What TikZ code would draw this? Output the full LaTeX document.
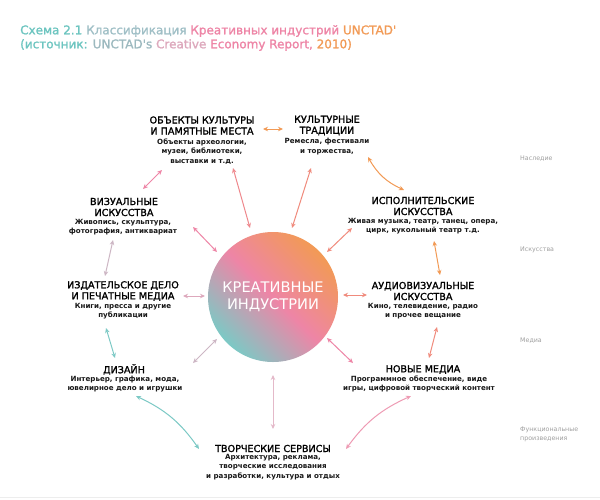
\documentclass[tikz,border=0pt]{standalone}
\usepackage{fontspec}
\setmainfont{DejaVu Sans}
\newfontfamily\medfont[FakeBold=1.4]{DejaVu Sans}
\newfontfamily\titlefont[FakeBold=1.2]{DejaVu Sans}
\usetikzlibrary{arrows.meta}
\definecolor{cOrange}{HTML}{F29A55}
\definecolor{cSalmon}{HTML}{F08A7C}
\definecolor{cPink}{HTML}{EE85A6}
\definecolor{cLilac}{HTML}{CDB6C4}
\definecolor{cLilacPink}{HTML}{DDA8BC}
\definecolor{cTeal}{HTML}{7CC9C5}
\definecolor{cTealT}{HTML}{6CC5C0}
\definecolor{cSteel}{HTML}{9FBFC6}
\definecolor{cGray}{HTML}{A0A0A0}
\definecolor{cPinkL}{HTML}{EE9AB3}
\begin{document}
\begin{tikzpicture}[x=1pt,y=-1pt,
  hd/.style={font=\medfont\fontsize{9.6}{11}\selectfont, align=center, inner sep=0pt, text=black},
  ds/.style={font=\fontsize{7.1}{9.5}\selectfont\bfseries, align=center, inner sep=0pt, text=black!90},
  lnk/.style={line width=1pt, {Stealth[length=5pt,width=4.5pt]}-{Stealth[length=5pt,width=4.5pt]}},
  side/.style={font=\fontsize{6.3}{8.5}\selectfont, text=cGray, align=left, anchor=west, inner sep=0pt},
  ttl/.style={font=\titlefont\fontsize{12}{14}\selectfont, anchor=west, inner sep=0pt}]
\useasboundingbox (0,0) rectangle (600,499);
\fill[white] (0,0) rectangle (600,499);
\draw[black!7, line width=1pt] (0,497.5) -- (600,497.5);

% title
\node[ttl] (title1) at (20,31) {\textcolor{cTealT}{Схема 2.1} \textcolor{cSteel}{Классификация} \textcolor{cPink}{Креативных индустрий} \textcolor{cOrange}{UNCTAD'}};
\node[ttl] (title2) at (20,45) {\textcolor{cTealT}{(источник:} \textcolor{cSteel!90!gray}{UNCTAD's} \textcolor{cLilacPink}{Creative} \textcolor{cPink}{Economy Report,} \textcolor{cOrange}{2010)}};

% centre
\node[circle, minimum size=130pt, inner sep=0pt, shading=axis, top color=cOrange, bottom color=cTeal, middle color=cPink, shading angle=-45,
  text=white, align=center, font=\fontsize{14.6}{17}\selectfont] (core) at (273,297) {КРЕАТИВНЫЕ\\ИНДУСТРИИ};

% categories
\node[hd] (objekty) at (202,125.5) {ОБЪЕКТЫ КУЛЬТУРЫ\\И ПАМЯТНЫЕ МЕСТА};
\node[ds] (objektyD) at (202,151.5) {Объекты археологии,\\музеи, библиотеки,\\выставки и т.д.};
\node[hd] (tradicii) at (327,125.5) {КУЛЬТУРНЫЕ\\ТРАДИЦИИ};
\node[ds] (tradiciiD) at (327,146.5) {Ремесла, фестивали\\и торжества,};
\node[hd] (ispoln) at (423,206) {ИСПОЛНИТЕЛЬСКИЕ\\ИСКУССТВА};
\node[ds] (ispolnD) at (423,226) {Живая музыка, театр, танец, опера,\\цирк, кукольный театр т.д.};
\node[hd] (vizual) at (124,207) {ВИЗУАЛЬНЫЕ\\ИСКУССТВА};
\node[ds] (vizualD) at (123,227) {Живопись, скульптура,\\фотография, антиквариат};
\node[hd] (izdat) at (123,291) {ИЗДАТЕЛЬСКОЕ ДЕЛО\\И ПЕЧАТНЫЕ МЕДИА};
\node[ds] (izdatD) at (123,311) {Книги, пресса и другие\\публикации};
\node[hd] (audio) at (423,291) {АУДИОВИЗУАЛЬНЫЕ\\ИСКУССТВА};
\node[ds] (audioD) at (423,311) {Кино, телевидение, радио\\и прочее вещание};
\node[hd] (dizain) at (124,369.5) {ДИЗАЙН};
\node[ds] (dizainD) at (125,384) {Интерьер, графика, мода,\\ювелирное дело и игрушки};
\node[hd] (novye) at (423,369.5) {НОВЫЕ МЕДИА};
\node[ds] (novyeD) at (419,384) {Программное обеспечение, виде\\игры, цифровой творческий контент};
\node[hd] (servisy) at (273,448.5) {ТВОРЧЕСКИЕ СЕРВИСЫ};
\node[ds] (servisyD) at (273,467) {Архитектура, реклама,\\творческие исследования\\и разработки, культура и отдых};

% side labels
\node[side] (lNasl) at (520,159) {Наследие};
\node[side] (lIsk) at (520,250) {Искусства};
\node[side] (lMed) at (520,341) {Медиа};
\node[side] (lFunc) at (520,434.5) {Функциональные\\произведения};

% connector ends
\coordinate (a1) at (162,170); \coordinate (b1) at (143,189);
\coordinate (a2) at (233,168); \coordinate (b2) at (250,228);
\coordinate (a3) at (311,168); \coordinate (b3) at (292,228);
\coordinate (a4) at (368,157); \coordinate (b4) at (404,190);
\coordinate (a5) at (193,227); \coordinate (b5) at (217,252);
\coordinate (a6) at (352,228); \coordinate (b6) at (327,252);
\coordinate (a7) at (113,240); \coordinate (b7) at (105,276);
\coordinate (a8) at (434,241); \coordinate (b8) at (440,275);
\coordinate (a9) at (183,296); \coordinate (b9) at (205,296);
\coordinate (a10) at (343,295); \coordinate (b10) at (367,295);
\coordinate (a11) at (106,328); \coordinate (b11) at (115,358);
\coordinate (a12) at (437,327); \coordinate (b12) at (429,358);
\coordinate (a13) at (217,339); \coordinate (b13) at (193,363);
\coordinate (a14) at (327,338); \coordinate (b14) at (353,363);
\coordinate (a15) at (273,375); \coordinate (b15) at (273,429);
\coordinate (a16) at (136,396); \coordinate (b16) at (199,449);
\coordinate (a17) at (411,396); \coordinate (b17) at (346,449);
\coordinate (a18) at (263,129); \coordinate (b18) at (283,129);

\draw[lnk, cPink] (a1) -- (b1);
\draw[lnk, cSalmon!60!cPink] (a2) -- (b2);
\draw[lnk, cSalmon] (a3) -- (b3);
\draw[lnk, cOrange] (a4) to[bend right=18] (b4);
\draw[lnk, cPink] (a5) -- (b5);
\draw[lnk, cSalmon] (a6) -- (b6);
\draw[lnk, cLilac] (a7) -- (b7);
\draw[lnk, cOrange] (a8) -- (b8);
\draw[lnk, cLilacPink] (a9) -- (b9);
\draw[lnk, cSalmon] (a10) -- (b10);
\draw[lnk, cTeal] (a11) -- (b11);
\draw[lnk, cSalmon] (a12) -- (b12);
\draw[lnk, cLilac] (a13) -- (b13);
\draw[lnk, cPink] (a14) -- (b14);
\draw[lnk, cLilacPink!80!white] (a15) -- (b15);
\draw[lnk, cTeal] (a16) to[bend left=15] (b16);
\draw[lnk, cPinkL] (a17) to[bend right=15] (b17);
\draw[lnk, cOrange] (a18) -- (b18);
\end{tikzpicture}
\end{document}
